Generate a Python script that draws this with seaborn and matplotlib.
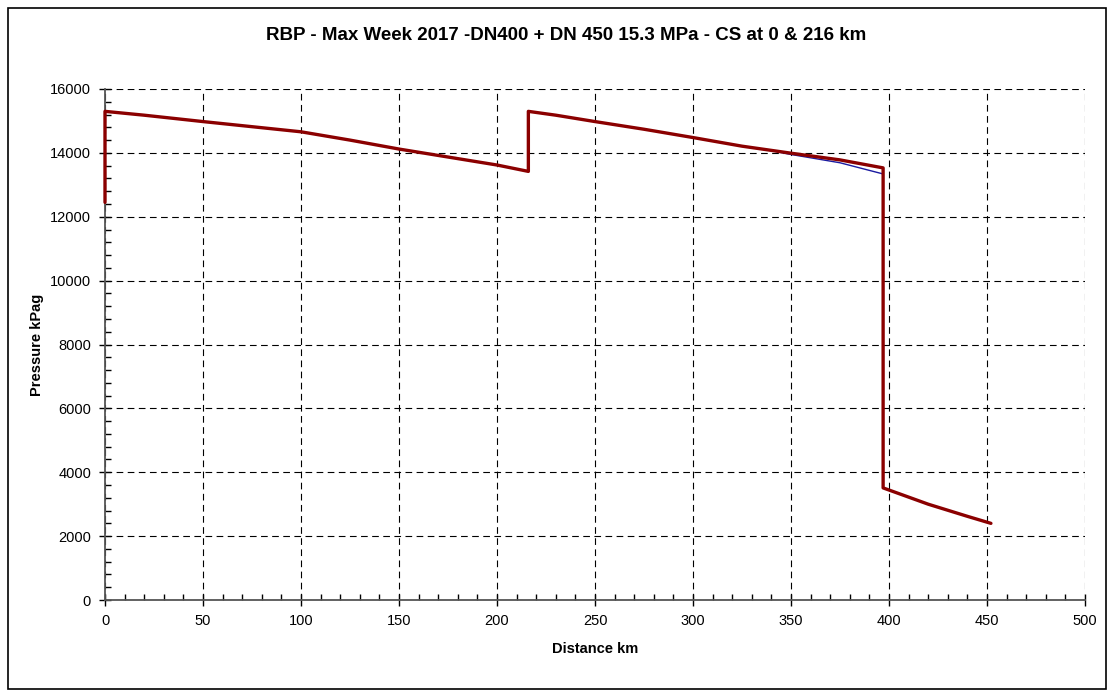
import pandas as pd
import seaborn as sns
from matplotlib import pyplot as plt
from matplotlib.patches import Rectangle
from matplotlib.ticker import MultipleLocator

# distance (km) and pressure (kPag)
dist_red = [0, 0, 20, 50, 75, 100, 125, 150, 170, 200, 216, 216, 230, 250, 275, 300,
            325, 350, 375, 397, 397, 420, 440, 452]
pres_red = [12450, 15300, 15180, 14980, 14820, 14660, 14400, 14120, 13920, 13620, 13420,
            15300, 15180, 14980, 14740, 14480, 14210, 13990, 13780, 13530, 3510, 3000,
            2620, 2400]

dist_blue = [0, 0, 20, 50, 75, 100, 125, 150, 170, 200, 216, 216, 230, 250, 275, 300,
             325, 340, 350, 375, 397, 397, 420, 440, 452]
pres_blue = [12450, 15300, 15180, 14980, 14820, 14660, 14400, 14120, 13920, 13620, 13420,
             15300, 15180, 14980, 14740, 14480, 14210, 14070, 13950, 13690, 13340, 3510,
             3000, 2620, 2400]

sns.set_style("white")
plt.rcParams['font.family'] = ['Liberation Sans', 'DejaVu Sans']
plt.rcParams['text.color'] = 'black'
plt.rcParams['axes.labelcolor'] = 'black'
plt.rcParams['xtick.color'] = 'black'
plt.rcParams['ytick.color'] = 'black'

fig = plt.figure(figsize=(11.08, 6.92), dpi=100)
ax = fig.add_axes([105/1108, 92/692, 980/1108, 511/692])

df_blue = pd.DataFrame({'x': dist_blue, 'y': pres_blue})
df_red = pd.DataFrame({'x': dist_red, 'y': pres_red})
sns.lineplot(data=df_blue, x='x', y='y', sort=False, estimator=None, ax=ax,
             color='#1a1aa0', linewidth=1.0, zorder=4, clip_on=False)
sns.lineplot(data=df_red, x='x', y='y', sort=False, estimator=None, ax=ax,
             color='#8b0000', linewidth=2.4, zorder=5, clip_on=False)

ax.set_xlim(0, 500)
ax.set_ylim(0, 16000)
ax.xaxis.set_major_locator(MultipleLocator(50))
ax.xaxis.set_minor_locator(MultipleLocator(10))
ax.yaxis.set_major_locator(MultipleLocator(2000))
ax.yaxis.set_minor_locator(MultipleLocator(400))

ax.grid(True, which='major', color='black', linestyle=(0, (6, 4)), linewidth=0.8)
ax.set_axisbelow(True)

for s in ['top', 'right']:
    ax.spines[s].set_visible(False)
for s in ['left', 'bottom']:
    ax.spines[s].set_color('#555555')
    ax.spines[s].set_linewidth(1.3)
    ax.spines[s].set_zorder(3)

ax.tick_params(which='both', bottom=True, left=True, top=False, right=False)
ax.tick_params(which='major', direction='inout', length=8, width=1, color='black',
               labelsize=10.5, pad=6)
ax.tick_params(which='minor', direction='in', length=4, width=1, color='black')

ax.set_xlabel('Distance km', fontsize=10.5, fontweight='bold', labelpad=10)
ax.set_ylabel('Pressure kPag', fontsize=10.5, fontweight='bold', labelpad=4)
fig.text(566/1108, 1 - 36/692,
         'RBP - Max Week 2017 -DN400 + DN 450 15.3 MPa - CS at 0 & 216 km',
         ha='center', va='center', fontsize=13.5, fontweight='bold')

fig.patches.append(Rectangle((8/1108, 3/692), 1098/1108, 681/692, transform=fig.transFigure,
                             fill=False, edgecolor='black', linewidth=1.2))

plt.savefig('out.png', dpi=100)
